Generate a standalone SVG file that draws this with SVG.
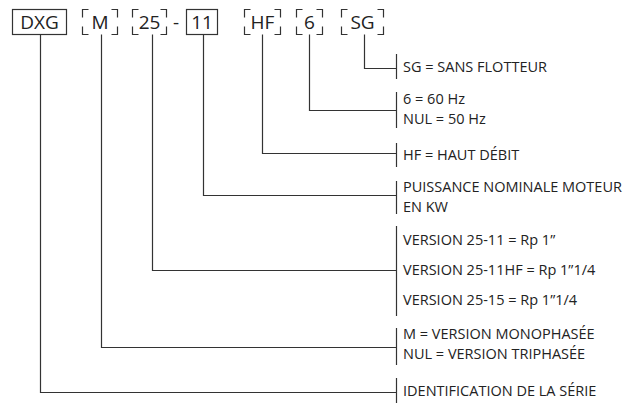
<svg xmlns="http://www.w3.org/2000/svg" width="635" height="403" viewBox="0 0 635 403">
<style>
.bx{fill:none;stroke:#333;stroke-width:1.2}
.ln{fill:none;stroke:#333;stroke-width:1.2}
.t{font-family:"Open Sans","Noto Sans",sans-serif;font-size:19px;fill:#222;text-anchor:middle}
.l{font-family:"Open Sans","Noto Sans",sans-serif;font-size:14.5px;fill:#222}
</style>
<rect width="635" height="403" fill="#fff"/>
<g id="node-dxg"><rect class="bx" x="12.5" y="9.5" width="54" height="25"/><text class="t" x="39.5" y="28.5">DXG</text></g>
<g id="node-m"><path class="bx" d="M82.5 17.5V9.5H88.5M111.5 9.5H117.5V17.5M117.5 26.5V34.5H111.5M88.5 34.5H82.5V26.5"/><text class="t" x="100" y="28.5">M</text></g>
<g id="node-25"><path class="bx" d="M132.5 17.5V9.5H138.5M160.5 9.5H166.5V17.5M166.5 26.5V34.5H160.5M138.5 34.5H132.5V26.5"/><text class="t" x="149.5" y="28.5">25</text></g>
<text class="t" x="176" y="28.5">-</text>
<g id="node-11"><rect class="bx" x="186.5" y="9.5" width="31" height="25"/><text class="t" x="202" y="28.5">11</text></g>
<g id="node-hf"><path class="bx" d="M244.5 17.5V9.5H250.5M274.5 9.5H280.5V17.5M280.5 26.5V34.5H274.5M250.5 34.5H244.5V26.5"/><text class="t" x="262.5" y="28.5">HF</text></g>
<g id="node-6"><path class="bx" d="M296.5 17.5V9.5H302.5M316.5 9.5H322.5V17.5M322.5 26.5V34.5H316.5M302.5 34.5H296.5V26.5"/><text class="t" x="309.5" y="28.5">6</text></g>
<g id="node-sg"><path class="bx" d="M341.5 17.5V9.5H347.5M377.5 9.5H383.5V17.5M383.5 26.5V34.5H377.5M347.5 34.5H341.5V26.5"/><text class="t" x="362.5" y="28.5">SG</text></g>
<g id="connectors">
<path class="ln" d="M364.5 34.5V68.5H396.5"/><path class="ln" d="M396.5 54V79"/>
<path class="ln" d="M309.5 34.5V110.5H396.5"/><path class="ln" d="M396.5 92V128"/>
<path class="ln" d="M262.5 34.5V153.5H396.5"/><path class="ln" d="M396.5 143V167"/>
<path class="ln" d="M203.5 34.5V195.5H396.5"/><path class="ln" d="M396.5 181V214"/>
<path class="ln" d="M152.5 34.5V270.5H396.5"/><path class="ln" d="M396.5 226V316"/>
<path class="ln" d="M101.5 34.5V347.5H396.5"/><path class="ln" d="M396.5 328V365"/>
<path class="ln" d="M40.5 34.5V392.5H396.5"/><path class="ln" d="M396.5 378V403"/>
</g>
<g id="labels">
<text class="l" x="403" y="72">SG = SANS FLOTTEUR</text>
<text class="l" x="403" y="104">6 = 60 Hz</text>
<text class="l" x="403" y="123.5">NUL = 50 Hz</text>
<text class="l" x="403" y="160">HF = HAUT DÉBIT</text>
<text class="l" x="403" y="192">PUISSANCE NOMINALE MOTEUR</text>
<text class="l" x="403" y="211.5">EN KW</text>
<text class="l" x="403" y="245">VERSION 25-11 = Rp 1”</text>
<text class="l" x="403" y="275">VERSION 25-11HF = Rp 1”1/4</text>
<text class="l" x="403" y="305">VERSION 25-15 = Rp 1”1/4</text>
<text class="l" x="403" y="339">M = VERSION MONOPHASÉE</text>
<text class="l" x="403" y="358.5">NUL = VERSION TRIPHASÉE</text>
<text class="l" x="403" y="396">IDENTIFICATION DE LA SÉRIE</text>
</g>
</svg>
